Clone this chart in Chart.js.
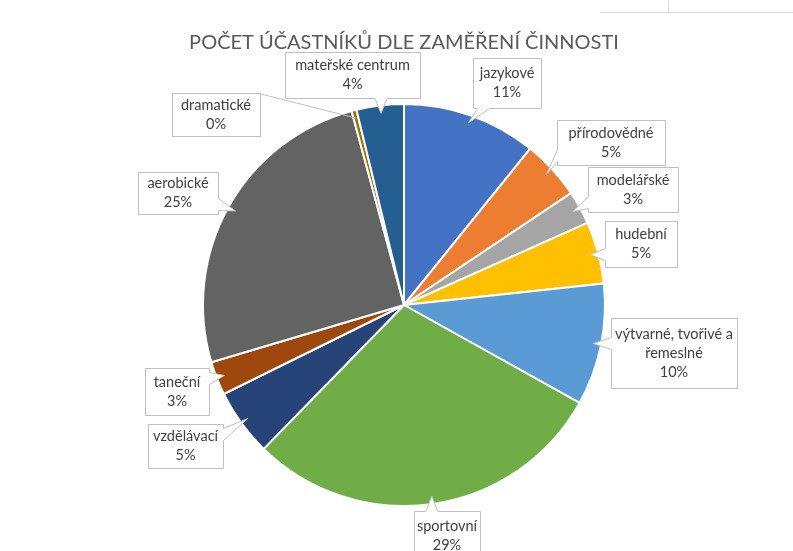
<!DOCTYPE html>
<html>
<head>
<meta charset="utf-8">
<script src="https://cdn.jsdelivr.net/npm/chart.js@4.4.1/dist/chart.umd.min.js"></script>
<style>
  html, body { margin: 0; padding: 0; background: #fff; }
  #wrap { position: relative; width: 793px; height: 551px; }
</style>
</head>
<body>
<div id="wrap"><canvas id="pieChart" width="793" height="551"></canvas></div>
<script>
// Data (share per mille)
const categories = [
    "jazykové", "přírodovědné", "modelářské", "hudební",
    "výtvarné, tvořivé a řemeslné", "sportovní", "vzdělávací",
    "taneční", "aerobické", "dramatické", "mateřské centrum"
];
const participants = [108, 48, 27, 50, 98, 292, 54, 27, 254, 4, 38];
const sliceColors = [
    "#4472C4", "#ED7D31", "#A5A5A5", "#FFC000", "#5B9BD5", "#70AD47",
    "#264478", "#9E480E", "#636363", "#997300", "#255E91"
];
const chartTitle = "POČET ÚČASTNÍKŮ DLE ZAMĚŘENÍ ČINNOSTI";

// Callout boxes [x, y, w, h] for each slice, same order as categories
const calloutBoxes = [
    [473, 58, 68, 50],
    [557, 120, 108, 45],
    [588, 167, 90, 45],
    [605, 221, 72, 46],
    [611, 318, 126, 70],
    [414, 511, 66, 50],
    [148, 424, 75, 44],
    [145, 368, 64, 47],
    [138, 172, 80, 42],
    [172, 93, 88, 43],
    [285, 52, 135, 46]
];
// dramatické uses a plain leader line instead of a wedge
const leaderOnly = [9];

const labelFont = "14.5px Lato, 'Open Sans', sans-serif";

function wrapText(ctx, text, maxW) {
    const words = text.split(" ");
    let lines = [], cur = "";
    words.forEach(w => {
        const test = cur ? cur + " " + w : w;
        if (ctx.measureText(test).width > maxW && cur) {
            lines.push(cur);
            cur = w;
        } else {
            cur = test;
        }
    });
    if (cur) lines.push(cur);
    return lines;
}

// rectangle with a wedge pointing to (tx, ty)
function calloutPath(ctx, x, y, w, h, tx, ty) {
    const hw = 6;
    const clamp = (v, a, b) => Math.max(a, Math.min(b, v));
    const dBottom = ty - (y + h), dTop = y - ty, dLeft = x - tx, dRight = tx - (x + w);
    const m = Math.max(dBottom, dTop, dLeft, dRight);
    ctx.beginPath();
    ctx.moveTo(x, y);
    if (m === dTop) {
        const c = clamp(tx, x + hw + 4, x + w - hw - 4);
        ctx.lineTo(c - hw, y); ctx.lineTo(tx, ty); ctx.lineTo(c + hw, y);
    }
    ctx.lineTo(x + w, y);
    if (m === dRight) {
        const c = clamp(ty, y + hw + 4, y + h - hw - 4);
        ctx.lineTo(x + w, c - hw); ctx.lineTo(tx, ty); ctx.lineTo(x + w, c + hw);
    }
    ctx.lineTo(x + w, y + h);
    if (m === dBottom) {
        const c = clamp(tx, x + hw + 4, x + w - hw - 4);
        ctx.lineTo(c + hw, y + h); ctx.lineTo(tx, ty); ctx.lineTo(c - hw, y + h);
    }
    ctx.lineTo(x, y + h);
    if (m === dLeft) {
        const c = clamp(ty, y + hw + 4, y + h - hw - 4);
        ctx.lineTo(x, c + hw); ctx.lineTo(tx, ty); ctx.lineTo(x, c - hw);
    }
    ctx.closePath();
}

const calloutPlugin = {
    id: "callouts",
    afterDatasetsDraw(chart) {
        const ctx = chart.ctx;
        const meta = chart.getDatasetMeta(0);
        const total = participants.reduce((a, b) => a + b, 0);
        ctx.save();
        meta.data.forEach((arc, i) => {
            const mid = (arc.startAngle + arc.endAngle) / 2;
            const r = arc.outerRadius * 0.96;
            const tx = arc.x + Math.cos(mid) * r;
            const ty = arc.y + Math.sin(mid) * r;
            const [x, y, w, h] = calloutBoxes[i];

            ctx.lineWidth = 1;
            ctx.strokeStyle = "#BFBFBF";
            ctx.fillStyle = "#fff";
            if (leaderOnly.includes(i)) {
                ctx.beginPath();
                ctx.moveTo(x + w - 3, y);
                ctx.lineTo(tx, ty);
                ctx.stroke();
                ctx.fillRect(x + 0.5, y + 0.5, w, h);
                ctx.strokeRect(x + 0.5, y + 0.5, w, h);
            } else {
                calloutPath(ctx, x + 0.5, y + 0.5, w, h, tx, ty);
                ctx.fill();
                ctx.stroke();
            }

            ctx.font = labelFont;
            ctx.fillStyle = "#404040";
            ctx.textAlign = "center";
            ctx.textBaseline = "middle";
            const lines = wrapText(ctx, categories[i], w - 2);
            lines.push(Math.round(participants[i] / total * 100) + "%");
            const lh = 19;
            const top = y + h / 2 - (lines.length - 1) * lh / 2;
            lines.forEach((ln, k) => ctx.fillText(ln, x + w / 2, top + k * lh));
        });
        ctx.restore();
    }
};

const decorPlugin = {
    id: "decor",
    beforeDraw(chart) {
        const ctx = chart.ctx;
        ctx.save();
        ctx.fillStyle = "#fff";
        ctx.fillRect(0, 0, chart.width, chart.height);
        // sheet cell borders at the top right
        ctx.strokeStyle = "#D9D9D9";
        ctx.lineWidth = 1;
        ctx.beginPath();
        ctx.moveTo(600, 12.5); ctx.lineTo(793, 12.5);
        ctx.moveTo(668.5, 0); ctx.lineTo(668.5, 12);
        ctx.stroke();
        // title
        ctx.font = "20px Lato, 'Open Sans', sans-serif";
        ctx.fillStyle = "#595959";
        ctx.textAlign = "center";
        ctx.textBaseline = "middle";
        ctx.fillText(chartTitle, 404, 43);
        ctx.restore();
    }
};

new Chart(document.getElementById("pieChart").getContext("2d"), {
    type: "pie",
    data: {
        labels: categories,
        datasets: [{
            data: participants,
            backgroundColor: sliceColors,
            borderColor: "#fff",
            borderWidth: 2
        }]
    },
    options: {
        responsive: false,
        animation: false,
        layout: { padding: { left: 202, right: 187, top: 103, bottom: 44 } },
        plugins: {
            legend: { display: false },
            title: { display: false },
            tooltip: { enabled: false }
        }
    },
    plugins: [decorPlugin, calloutPlugin]
});
</script>
</body>
</html>
